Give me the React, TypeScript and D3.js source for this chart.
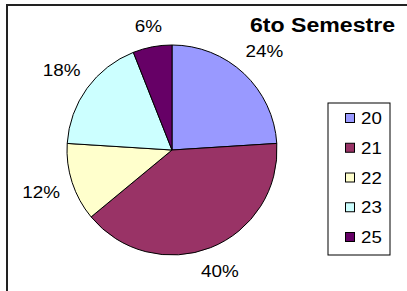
import React, { useEffect, useRef } from 'react'
import * as d3 from 'd3'

const categories = ['20', '21', '22', '23', '25']
const values = [24, 40, 12, 18, 6]
const colors = ['#9999FF', '#993366', '#FFFFCC', '#CCFFFF', '#660066']
const title = '6to Semestre'

const App = () => {
  const ref = useRef<SVGSVGElement>(null)

  useEffect(() => {
    const svg = d3.select(ref.current)
    svg.selectAll('*').remove()
    const font = 'Arial, "Liberation Sans", sans-serif'

    // chart area border (only top/left visible in the picture)
    svg.append('rect')
      .attr('x', 7).attr('y', 5)
      .attr('width', 420).attr('height', 310)
      .attr('fill', '#fff')
      .attr('stroke', '#222').attr('stroke-width', 2)

    const cx = 172, cy = 150, r = 105
    const total = d3.sum(values)
    const pie = d3.pie<number>().sort(null).value(d => d)
    const arcs = pie(values)
    const arc = d3.arc<d3.PieArcDatum<number>>().innerRadius(0).outerRadius(r)

    const g = svg.append('g').attr('transform', `translate(${cx},${cy})`)
    g.selectAll('path')
      .data(arcs)
      .enter()
      .append('path')
      .attr('d', arc)
      .attr('fill', (d, i) => colors[i])
      .attr('stroke', '#000')
      .attr('stroke-width', 1)

    // excel-like labels: box kept a fixed gap outside the rim, text a bit wide
    const sx = 1.18, gap = 13, capH = 11
    g.selectAll('g.lbl')
      .data(arcs)
      .enter()
      .append('g')
      .attr('class', 'lbl')
      .each(function (d) {
        const t = d3.select(this).append('text')
          .attr('text-anchor', 'middle')
          .attr('dy', '0.36em')
          .attr('font-family', font)
          .attr('font-size', 16)
          .attr('fill', '#000')
          .attr('transform', `scale(${sx},1)`)
          .text(Math.round(d.data / total * 100) + '%')
        const w = (t.node() as SVGTextElement).getComputedTextLength() * sx
        const a = (d.startAngle + d.endAngle) / 2
        const s = Math.sin(a), c = Math.cos(a)
        const dist = r + gap + Math.abs(s) * w / 2 + Math.abs(c) * capH / 2
        d3.select(this).attr('transform', `translate(${s * dist},${-c * dist})`)
      })

    svg.append('text')
      .attr('transform', 'translate(250,32) scale(1.1,1)')
      .attr('font-family', font)
      .attr('font-size', 21)
      .attr('font-weight', 'bold')
      .text(title)

    // legend
    const lg = svg.append('g')
    lg.append('rect')
      .attr('x', 328).attr('y', 103)
      .attr('width', 62).attr('height', 152)
      .attr('fill', '#fff')
      .attr('stroke', '#000').attr('stroke-width', 1)

    const ly = d3.scalePoint<string>().domain(categories).range([118, 237])
    const items = lg.selectAll('g.item')
      .data(categories)
      .enter()
      .append('g')
      .attr('class', 'item')
      .attr('transform', d => `translate(0,${ly(d)})`)
    items.append('rect')
      .attr('x', 345.5).attr('y', -4.5)
      .attr('width', 9).attr('height', 9)
      .attr('fill', (d, i) => colors[i])
      .attr('stroke', '#000').attr('stroke-width', 1)
    items.append('text')
      .attr('transform', 'translate(361,0) scale(1.1,1)')
      .attr('dy', '0.36em')
      .attr('font-family', font)
      .attr('font-size', 17)
      .text(d => d)
  }, [])

  return (
    <svg ref={ref} width={407} height={291}
      style={{ position: 'absolute', left: 0, top: 0, background: '#fff' }} />
  )
}

export default App
